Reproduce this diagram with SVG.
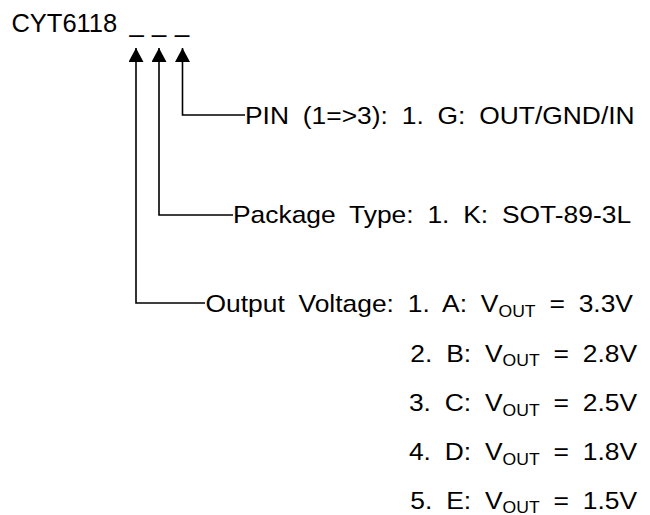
<svg xmlns="http://www.w3.org/2000/svg" width="650" height="515" viewBox="0 0 650 515">
<style>
  text { font-family: "Liberation Sans", Arial, sans-serif; fill: #000; }
  .title { font-size: 25.5px; }
  .lbl { font-size: 24px; word-spacing: 5.9px; }
  .sub { font-size: 16px; }
  .wire { fill: none; stroke: #000; stroke-width: 1.6; }
</style>
<defs>
  <marker id="arrow" viewBox="0 0 14 15" markerWidth="14" markerHeight="15" refX="14" refY="7.5" orient="auto" markerUnits="userSpaceOnUse">
    <path d="M0,0 L14,7.5 L0,15 Z" fill="#000"/>
  </marker>
</defs>
<rect width="650" height="515" fill="#fff"/>
<g id="part-number">
  <text class="title" x="11.4" y="31.7">CYT6118<tspan x="129.4">_</tspan><tspan x="151.9">_</tspan><tspan x="174.9">_</tspan></text>
</g>
<g id="connectors">
  <path class="wire" d="M205,303 H136 V48" marker-end="url(#arrow)"/>
  <path class="wire" d="M233,215 H159 V48" marker-end="url(#arrow)"/>
  <path class="wire" d="M245,115 H182.5 V48" marker-end="url(#arrow)"/>
</g>
<g id="pin">
  <text class="lbl" transform="translate(245,123.5) scale(1.1,1)">PIN (1=&gt;3): 1. G: OUT/GND/IN</text>
</g>
<g id="package">
  <text class="lbl" transform="translate(233,222.5) scale(1.1,1)">Package Type: 1. K: SOT-89-3L</text>
</g>
<g id="output-voltage">
  <text class="lbl" transform="translate(205.5,312) scale(1.1,1)">Output Voltage: 1. A: V<tspan class="sub" dy="4.5">OUT</tspan><tspan dy="-4.5"> = 3.3V</tspan></text>
  <text class="lbl" text-anchor="end" transform="translate(637,361.5) scale(1.1,1)">2. B: V<tspan class="sub" dy="4.5">OUT</tspan><tspan dy="-4.5"> = 2.8V</tspan></text>
  <text class="lbl" text-anchor="end" transform="translate(637,411) scale(1.1,1)">3. C: V<tspan class="sub" dy="4.5">OUT</tspan><tspan dy="-4.5"> = 2.5V</tspan></text>
  <text class="lbl" text-anchor="end" transform="translate(637,460) scale(1.1,1)">4. D: V<tspan class="sub" dy="4.5">OUT</tspan><tspan dy="-4.5"> = 1.8V</tspan></text>
  <text class="lbl" text-anchor="end" transform="translate(637,508.5) scale(1.1,1)">5. E: V<tspan class="sub" dy="4">OUT</tspan><tspan dy="-4"> = 1.5V</tspan></text>
</g>
</svg>
